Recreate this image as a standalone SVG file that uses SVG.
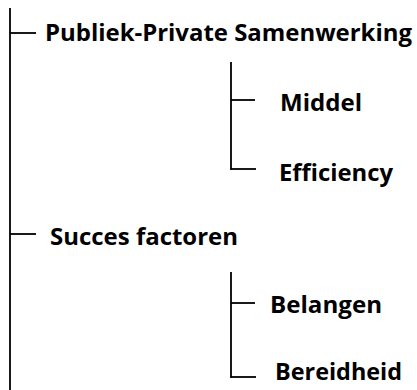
<svg xmlns="http://www.w3.org/2000/svg" width="417" height="390" viewBox="0 0 417 390">
  <style>
    .line { stroke: #000; stroke-width: 1.8; fill: none; }
    .label { font-family: "Open Sans", "Liberation Sans", sans-serif; font-weight: bold; font-size: 24px; fill: #000; }
  </style>
  <rect width="417" height="390" fill="#fff"/>
  <g id="connectors">
    <line class="line" x1="10" y1="8" x2="10" y2="390"/>
    <line class="line" x1="10" y1="33" x2="36" y2="33"/>
    <line class="line" x1="10" y1="234" x2="36" y2="234"/>
    <line class="line" x1="231" y1="62" x2="231" y2="170"/>
    <line class="line" x1="231" y1="100" x2="255" y2="100"/>
    <line class="line" x1="231" y1="169" x2="256" y2="169"/>
    <line class="line" x1="231" y1="272" x2="231" y2="378"/>
    <line class="line" x1="231" y1="303" x2="255" y2="303"/>
    <line class="line" x1="231" y1="377" x2="256" y2="377"/>
  </g>
  <g id="node-pps">
    <text class="label" x="45" y="41" textLength="367" lengthAdjust="spacingAndGlyphs">Publiek-Private Samenwerking</text>
  </g>
  <g id="node-middel">
    <text class="label" x="280" y="111" textLength="82" lengthAdjust="spacingAndGlyphs">Middel</text>
  </g>
  <g id="node-efficiency">
    <text class="label" x="279" y="181" textLength="114" lengthAdjust="spacingAndGlyphs">Efficiency</text>
  </g>
  <g id="node-succes">
    <text class="label" x="50" y="245" textLength="188" lengthAdjust="spacingAndGlyphs">Succes factoren</text>
  </g>
  <g id="node-belangen">
    <text class="label" x="270" y="313" textLength="112" lengthAdjust="spacingAndGlyphs">Belangen</text>
  </g>
  <g id="node-bereidheid">
    <text class="label" x="275" y="380" textLength="127" lengthAdjust="spacingAndGlyphs">Bereidheid</text>
  </g>
</svg>
